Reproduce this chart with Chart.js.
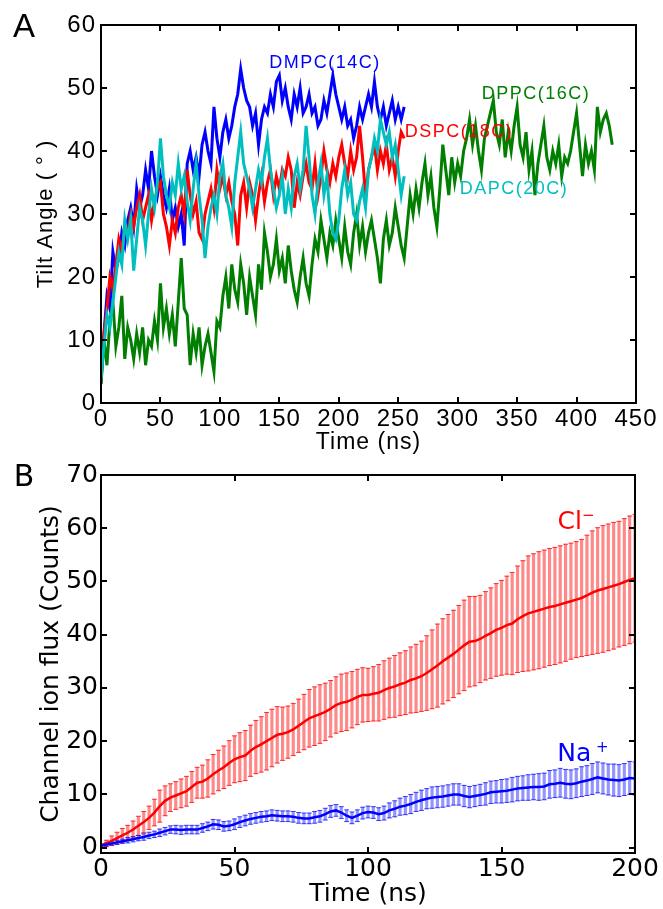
<!DOCTYPE html>
<html>
<head>
<meta charset="utf-8">
<script src="https://cdn.jsdelivr.net/npm/chart.js@4.4.1/dist/chart.umd.min.js"></script>
<style>
  html, body { margin: 0; padding: 0; background: #fff; }
  #wrap { position: relative; width: 663px; height: 909px; overflow: hidden; }
  canvas { position: absolute; left: 0; }
  #chartA { top: 0; }
  #chartB { top: 455px; }
  .lbl { position: absolute; transform: translate(-50%, -50%); white-space: nowrap; line-height: 1; }
  .a-txt { font-family: "Liberation Sans", Arial, sans-serif; font-size: 18px; letter-spacing: 1.5px; }
  .b-txt { font-family: "DejaVu Sans", sans-serif; font-size: 25px; }
  .b-txt sup { font-size: 15px; vertical-align: 9px; }
</style>
</head>
<body>
<div id="wrap">
  <canvas id="chartA" width="663" height="462"></canvas>
  <canvas id="chartB" width="663" height="454"></canvas>

  <div class="lbl" style="left:24px;top:25px;font-family:'Liberation Sans';font-size:33px;">A</div>
  <div class="lbl" style="left:24px;top:476px;font-family:'DejaVu Sans';font-size:30px;">B</div>

  <div class="lbl a-txt" style="left:325px;top:62px;color:#0000ff;">DMPC(14C)</div>
  <div class="lbl a-txt" style="left:459px;top:131px;color:#ff0000;">DSPC(18C)</div>
  <div class="lbl a-txt" style="left:536px;top:93px;color:#007f00;">DPPC(16C)</div>
  <div class="lbl a-txt" style="left:514px;top:188px;color:#00bfbf;">DAPC(20C)</div>

  <div class="lbl b-txt" style="left:576px;top:520px;color:#ff0000;">Cl<sup>−</sup></div>
  <div class="lbl b-txt" style="left:583px;top:752px;color:#0000ff;">Na<sup>&nbsp;+</sup></div>
</div>

<script>
// ---- panel A: tilt angle traces, one value every 2.5 ns ----
const DT_A = 2.5;
const X_TICKS_A = [0, 50, 100, 150, 200, 250, 300, 350, 400, 450];
const Y_TICKS_A = [0, 10, 20, 30, 40, 50, 60];

const DMPC = [
  5, 11, 17, 15, 24, 21, 23, 27, 25, 29,
  31, 28, 34, 31, 33, 37, 34, 40, 36, 33,
  36, 33, 31, 34, 29, 31, 28, 30, 25, 38,
  40, 37, 39, 36, 41, 43, 40, 38, 47, 42,
  39, 43, 45, 42, 44, 47, 49, 53, 50, 48,
  47, 44, 46, 41, 45, 47, 46, 49, 47, 51,
  52, 48, 50, 47, 45, 49, 47, 50, 46, 47,
  49, 46, 47, 44, 45, 48, 46, 49, 52, 49,
  47, 45, 47, 44, 45, 42, 44, 47, 45, 47,
  49, 47, 51, 47, 45, 47, 44, 46, 48, 45,
  47, 45, 47
];
const DSPC = [
  3, 11, 15, 20, 18, 22, 26, 24, 28, 27,
  30, 28, 31, 33, 29, 31, 33, 29, 32, 34,
  35, 30, 28, 25, 29, 27, 31, 33, 30, 37,
  33, 30, 32, 27, 26, 30, 32, 34, 31, 37,
  34, 36, 33, 35, 32, 30, 25, 33, 35, 31,
  35, 33, 29, 33, 36, 32, 35, 37, 33, 36,
  34, 37, 36, 39, 37, 31, 35, 33, 36, 38,
  35, 34, 38, 33, 36, 40, 37, 35, 38, 36,
  39, 41, 38, 36, 40, 37, 39, 44, 39, 33,
  37, 39, 41, 37, 40, 38, 41, 37, 39, 36,
  40, 43, 42
];
const DAPC = [
  4, 9, 14, 12, 16, 20, 24, 22, 29, 26,
  29, 21, 26, 31, 29, 25, 30, 34, 31, 35,
  42, 36, 33, 31, 35, 33, 38, 34, 36, 32,
  29, 34, 38, 33, 29, 23, 28, 31, 33, 30,
  36, 38, 33, 31, 28, 35, 39, 43, 38, 36,
  34, 31, 34, 37, 35, 39, 42, 37, 34, 31,
  33, 36, 30, 34, 31, 36, 38, 34, 37, 44,
  39, 33, 30, 35, 38, 33, 36, 30, 27, 26,
  29, 34, 37, 33, 35, 30, 29, 32, 34, 31,
  37, 39, 42, 40, 45, 43, 41, 43, 39, 41,
  37, 33, 36
];
const DPPC = [
  3, 10, 6, 13, 16, 9, 12, 17, 7, 12,
  10, 7, 11, 8, 12, 6, 10, 9, 13, 10,
  19, 12, 15, 11, 14, 9, 16, 23, 15, 14,
  6, 11, 8, 12, 6, 9, 11, 8, 5, 13,
  12, 17, 20, 15, 22, 18, 16, 22, 19, 14,
  20, 17, 14, 22, 18, 27, 24, 20, 22, 26,
  21, 23, 19, 25, 21, 18, 16, 20, 23, 19,
  17, 22, 26, 24, 29, 26, 23, 27, 25, 29,
  26, 23, 28, 24, 22, 27, 30, 25, 28, 24,
  27, 29, 26, 23, 19, 26, 29, 25, 27, 31,
  28, 25, 23, 28, 33, 30, 34, 31, 35, 38,
  33, 36, 31, 28, 34, 41, 37, 33, 39, 35,
  38, 36, 40, 42, 45, 41, 44, 40, 37, 42,
  44, 46, 48, 43, 41, 45, 39, 43, 40, 44,
  47, 41, 39, 43, 37, 40, 33, 38, 41, 44,
  39, 37, 40, 38, 41, 36, 39, 38, 40, 43,
  46, 41, 36, 41, 38, 40, 37, 47, 43, 45,
  46, 44, 41
];

// ---- panel B: cumulative ion flux, one value every 2 ns ----
const DT_B = 2;
const X_TICKS_B = [0, 50, 100, 150, 200];
const Y_TICKS_B = [0, 10, 20, 30, 40, 50, 60, 70];

const CL_MEAN = [
  0.4, 0.8, 1.3, 1.8, 2.3, 2.8, 3.4, 4.1, 4.8, 5.6,
  6.6, 7.8, 8.8, 9.4, 9.8, 10.2, 10.6, 11.4, 12.2, 12.4,
  13.0, 13.8, 14.5, 15.1, 15.9, 16.6, 17.0, 17.3, 18.2, 18.9,
  19.4, 20.0, 20.6, 21.2, 21.4, 21.7, 22.2, 22.9, 23.6, 24.3,
  24.7, 25.1, 25.5, 26.1, 26.8, 27.2, 27.4, 27.8, 28.3, 28.7,
  28.7, 28.9, 29.1, 29.6, 30.0, 30.3, 30.7, 31.0, 31.5, 31.8,
  32.2, 32.8, 33.5, 34.2, 35.0, 35.7, 36.4, 37.2, 38.0, 38.7,
  38.8, 39.2, 39.8, 40.3, 40.9, 41.3, 41.8, 42.1, 42.9, 43.5,
  44.0, 44.3, 44.6, 44.9, 45.2, 45.4, 45.7, 46.0, 46.3, 46.6,
  46.9, 47.4, 47.9, 48.3, 48.6, 48.9, 49.2, 49.5, 49.9, 50.3,
  50.6
];
const CL_ERR = [
  0.3, 0.6, 0.9, 1.1, 1.3, 1.4, 1.6, 1.8, 2.0, 2.2,
  2.5, 3.0, 2.8, 2.6, 2.6, 2.7, 2.8, 2.9, 2.9, 3.1,
  3.5, 3.7, 3.8, 4.0, 4.2, 4.4, 4.6, 4.7, 4.8, 5.0,
  5.2, 5.4, 5.4, 5.3, 5.0, 4.9, 4.9, 5.0, 5.2, 5.4,
  5.5, 5.5, 5.4, 5.3, 5.3, 5.4, 5.4, 5.3, 5.2, 5.1,
  5.0, 5.1, 5.3, 5.5, 5.6, 5.8, 5.9, 6.0, 6.2, 6.4,
  6.6, 7.0, 7.4, 7.8, 8.0, 8.1, 8.2, 8.3, 8.5, 8.5,
  8.4, 8.2, 8.3, 8.5, 8.7, 8.9, 9.2, 9.6, 10.0, 10.4,
  10.8, 10.9, 11.0, 11.0, 11.0, 11.0, 11.0, 11.0, 10.9, 10.9,
  11.0, 11.3, 11.6, 11.8, 11.9, 11.9, 11.9, 11.8, 11.9, 12.0,
  12.0
];
const NA_MEAN = [
  0.4, 0.6, 0.8, 1.0, 1.2, 1.4, 1.6, 1.8, 2.0, 2.3,
  2.5, 2.8, 3.1, 3.4, 3.4, 3.3, 3.4, 3.4, 3.4, 3.7,
  4.0, 4.4, 4.3, 4.0, 4.1, 4.4, 4.8, 5.1, 5.4, 5.6,
  5.8, 5.9, 6.1, 6.0, 5.9, 5.9, 5.8, 5.6, 5.5, 5.5,
  5.7, 5.9, 6.3, 6.8, 7.0, 6.6, 6.0, 5.6, 6.0, 6.5,
  6.7, 6.6, 6.3, 6.5, 7.0, 7.3, 7.7, 7.9, 8.2, 8.6,
  8.9, 9.2, 9.4, 9.5, 9.6, 9.8, 10.0, 10.0, 9.7, 9.5,
  9.7, 9.9, 10.1, 10.4, 10.5, 10.6, 10.7, 10.9, 11.1, 11.2,
  11.3, 11.4, 11.4, 11.5, 11.9, 12.0, 12.2, 12.0, 11.9, 12.1,
  12.4, 12.6, 12.9, 13.2, 13.0, 12.8, 12.7, 12.6, 12.8, 13.1,
  13.0
];
const NA_ERR = [
  0.2, 0.3, 0.3, 0.4, 0.4, 0.5, 0.5, 0.5, 0.6, 0.6,
  0.6, 0.7, 0.7, 0.7, 0.8, 0.8, 0.8, 0.8, 0.8, 0.8,
  0.8, 0.9, 0.9, 0.9, 0.9, 1.0, 1.0, 1.0, 1.0, 1.0,
  1.0, 1.0, 1.0, 1.0, 1.0, 1.0, 1.0, 1.0, 1.0, 1.0,
  1.1, 1.1, 1.1, 1.1, 1.1, 1.1, 1.1, 1.1, 1.1, 1.1,
  1.1, 1.1, 1.2, 1.3, 1.4, 1.5, 1.6, 1.7, 1.8, 1.8,
  1.9, 1.9, 2.0, 2.0, 2.0, 2.0, 2.0, 2.0, 2.0, 2.0,
  2.0, 2.0, 2.1, 2.1, 2.1, 2.2, 2.2, 2.3, 2.3, 2.3,
  2.4, 2.4, 2.5, 2.5, 2.6, 2.6, 2.7, 2.7, 2.7, 2.7,
  2.8, 2.8, 2.9, 2.9, 2.9, 2.9, 3.0, 3.0, 3.0, 3.1,
  3.1
];

function series(vals, dt) {
  return vals.map((v, i) => ({ x: i * dt, y: v }));
}
function bars(mean, err, dt) {
  return mean.map((m, i) => ({ x: i * dt, y: [m - err[i], m + err[i]] }));
}
function caps(mean, err, dt) {
  const lo = mean.map((m, i) => ({ x: i * dt, y: m - err[i] }));
  const hi = mean.map((m, i) => ({ x: i * dt, y: m + err[i] }));
  return lo.concat(hi);
}
function fixedTicks(list) {
  return (scale) => { scale.ticks = list.map(v => ({ value: v })); };
}

// box round the plot area with small inward ticks on all four sides
const frameTicks = {
  id: "frameTicks",
  afterDatasetsDraw(chart, args, opts) {
    const { ctx, chartArea: a, scales: { x, y } } = chart;
    const len = opts.len || 6;
    ctx.save();
    ctx.strokeStyle = "#000";
    ctx.lineWidth = opts.width || 2;
    ctx.beginPath();
    x.ticks.forEach(t => {
      const px = Math.round(x.getPixelForValue(t.value));
      ctx.moveTo(px, a.bottom); ctx.lineTo(px, a.bottom - len);
      ctx.moveTo(px, a.top);    ctx.lineTo(px, a.top + len);
    });
    y.ticks.forEach(t => {
      const py = Math.round(y.getPixelForValue(t.value));
      ctx.moveTo(a.left, py);  ctx.lineTo(a.left + len, py);
      ctx.moveTo(a.right, py); ctx.lineTo(a.right - len, py);
    });
    ctx.stroke();
    ctx.strokeRect(a.left, a.top, a.right - a.left, a.bottom - a.top);
    ctx.restore();
  }
};

const spacing = {
  id: "spacing",
  beforeDraw(chart) { chart.ctx.letterSpacing = "1px"; }
};

const FONT_A = "'Liberation Sans', Arial, sans-serif";
const FONT_B = "'DejaVu Sans', sans-serif";

function lineSet(label, vals, color) {
  return {
    label, data: series(vals, DT_A), borderColor: color, backgroundColor: color,
    borderWidth: 3, pointRadius: 0, tension: 0, fill: false
  };
}

new Chart(document.getElementById("chartA"), {
  type: "line",
  data: {
    datasets: [
      lineSet("DAPC(20C)", DAPC, "#00bfbf"),
      lineSet("DPPC(16C)", DPPC, "#007f00"),
      lineSet("DSPC(18C)", DSPC, "#ff0000"),
      lineSet("DMPC(14C)", DMPC, "#0000ff")
    ]
  },
  options: {
    responsive: false,
    animation: false,
    layout: { padding: { top: 25, right: 27, left: 0, bottom: 0 } },
    plugins: { legend: { display: false }, tooltip: { enabled: false }, frameTicks: { len: 6, width: 2 } },
    scales: {
      x: {
        type: "linear", min: 0, max: 450,
        afterBuildTicks: fixedTicks(X_TICKS_A),
        afterFit: (s) => { s.height = 59; },
        grid: { display: false, drawTicks: false },
        border: { display: false },
        ticks: { color: "#000", font: { family: FONT_A, size: 24 }, padding: 2, maxRotation: 0, autoSkip: false },
        title: { display: true, text: "Time (ns)", color: "#000", font: { family: FONT_A, size: 23 }, padding: { top: 0, bottom: 6 } }
      },
      y: {
        min: 0, max: 60,
        afterBuildTicks: fixedTicks(Y_TICKS_A),
        afterFit: (s) => { s.width = 101; },
        grid: { display: false, drawTicks: false },
        border: { display: false },
        ticks: { color: "#000", font: { family: FONT_A, size: 24 }, padding: 5 },
        title: { display: true, text: "Tilt Angle ( ° )", color: "#000", font: { family: FONT_A, size: 22 }, padding: { top: 33, bottom: 0 } }
      }
    }
  },
  plugins: [frameTicks, spacing]
});

new Chart(document.getElementById("chartB"), {
  type: "line",
  data: {
    datasets: [
      { type: "line", label: "Na+", data: series(NA_MEAN, DT_B), borderColor: "#0000ff",
        borderWidth: 2.5, pointRadius: 0, tension: 0 },
      { type: "line", label: "Cl-", data: series(CL_MEAN, DT_B), borderColor: "#ff0000",
        borderWidth: 2.5, pointRadius: 0, tension: 0 },
      { type: "line", label: "Na+ caps", data: caps(NA_MEAN, NA_ERR, DT_B), showLine: false,
        pointStyle: "line", pointRadius: 2.5, borderColor: "rgba(0,0,255,0.7)", borderWidth: 1 },
      { type: "line", label: "Cl- caps", data: caps(CL_MEAN, CL_ERR, DT_B), showLine: false,
        pointStyle: "line", pointRadius: 2.5, borderColor: "rgba(255,0,0,0.75)", borderWidth: 1 },
      { type: "bar", label: "Na+ err", data: bars(NA_MEAN, NA_ERR, DT_B), backgroundColor: "rgba(60,60,255,0.55)",
        borderWidth: 0, barThickness: 2.5, grouped: false },
      { type: "bar", label: "Cl- err", data: bars(CL_MEAN, CL_ERR, DT_B), backgroundColor: "rgba(255,40,40,0.55)",
        borderWidth: 0, barThickness: 2.5, grouped: false }
    ]
  },
  options: {
    responsive: false,
    animation: false,
    layout: { padding: { top: 20, right: 28, left: 0, bottom: 0 } },
    plugins: { legend: { display: false }, tooltip: { enabled: false }, frameTicks: { len: 6, width: 2 } },
    scales: {
      x: {
        type: "linear", min: 0, max: 200, offset: false,
        afterBuildTicks: fixedTicks(X_TICKS_B),
        afterFit: (s) => { s.height = 56; },
        grid: { display: false, drawTicks: false, offset: false },
        border: { display: false },
        ticks: { color: "#000", font: { family: FONT_B, size: 25 }, padding: 1, maxRotation: 0, autoSkip: false },
        title: { display: true, text: "Time (ns)", color: "#000", font: { family: FONT_B, size: 25 }, padding: { top: 0, bottom: 0 } }
      },
      y: {
        type: "linear", min: -1, max: 70,
        afterBuildTicks: fixedTicks(Y_TICKS_B),
        afterFit: (s) => { s.width = 101; },
        grid: { display: false, drawTicks: false },
        border: { display: false },
        ticks: { color: "#000", font: { family: FONT_B, size: 25 }, padding: 3 },
        title: { display: true, text: "Channel ion flux (Counts)", color: "#000", font: { family: FONT_B, size: 25 }, padding: { top: 36, bottom: 0 } }
      }
    }
  },
  plugins: [frameTicks]
});
</script>
</body>
</html>
